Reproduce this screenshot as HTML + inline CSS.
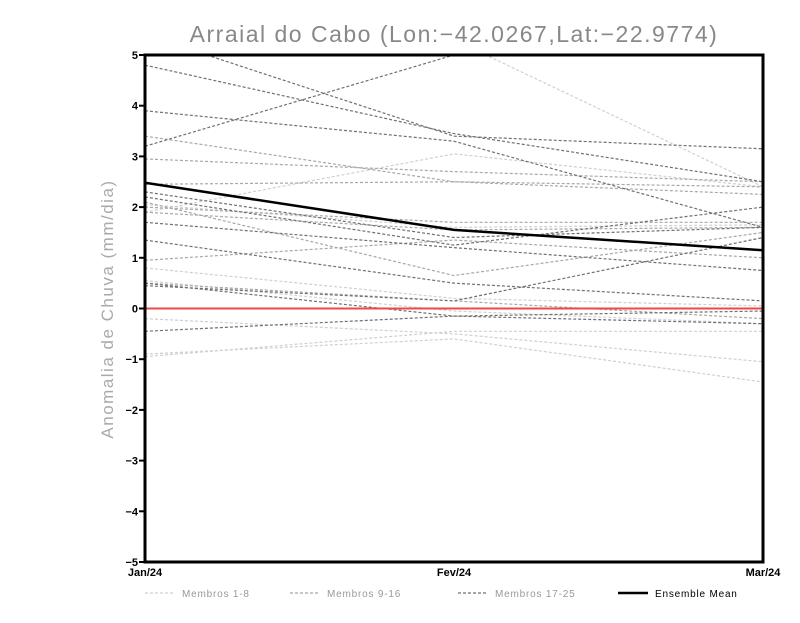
<!DOCTYPE html>
<html><head><meta charset="utf-8"><style>
body{margin:0;background:#fff;width:800px;height:618px;overflow:hidden}
text{font-family:"Liberation Sans",sans-serif}
</style></head><body>
<svg id="chart" width="800" height="618" xmlns="http://www.w3.org/2000/svg">
<text x="454" y="42" text-anchor="middle" font-size="23" fill="#888" letter-spacing="1.5">Arraial do Cabo (Lon:−42.0267,Lat:−22.9774)</text>
<text transform="translate(113,309) rotate(-90)" text-anchor="middle" font-size="17" fill="#aaa" letter-spacing="1.5">Anomalia de Chuva (mm/dia)</text>
<defs><clipPath id="plotclip"><rect x="145" y="55" width="618" height="507"/></clipPath></defs>
<g id="series" clip-path="url(#plotclip)"></g>
<rect x="145" y="55" width="618" height="507" fill="none" stroke="#000" stroke-width="3"/>
<g id="axes"></g>
<g id="legend"></g>
</svg>
<script>
const categories = ["Jan/24","Fev/24","Mar/24"];
const yTicks = [5,4,3,2,1,0,-1,-2,-3,-4,-5];
const members1to8 = [[6.0,5.3,2.4],[1.9,3.05,2.4],[0.8,0.2,0.05],[-0.2,-0.5,-1.05],[-0.9,-0.6,-1.45],[-0.95,-0.45,-0.45],[0.55,-0.05,-0.3],[2.05,1.6,1.65]];
const members9to16 = [[3.4,2.5,2.4],[2.95,2.7,2.5],[2.45,2.5,2.25],[2.0,1.7,1.7],[0.95,1.35,1.0],[2.1,0.65,1.5],[0.5,0.15,-0.2],[1.9,1.55,1.6]];
const members17to25 = [[4.8,3.45,2.5],[3.2,5.0,6.5],[3.9,3.3,1.6],[5.4,3.4,3.15],[2.3,1.4,1.6],[2.2,1.25,2.0],[1.7,1.2,0.75],[1.35,0.5,0.15],[0.45,0.15,1.4],[-0.45,-0.15,-0.05],[0.5,-0.15,-0.3]];
const ensembleMean = [2.48,1.55,1.15];
const x0=145,x1=763,yTop=55,yBot=562;
function xs(i){return x0+(x1-x0)*i/(categories.length-1);}
function ys(v){return yBot-(v+5)/10*(yBot-yTop);}
const NS="http://www.w3.org/2000/svg";
const series=document.getElementById('series'),axes=document.getElementById('axes'),legend=document.getElementById('legend');
function pts(a){return a.map((v,i)=>xs(i)+','+ys(v)).join(' ');}
function addLine(parent,a,color,w,dash,name){
  const p=document.createElementNS(NS,'polyline');
  p.setAttribute('points',pts(a));p.setAttribute('fill','none');p.setAttribute('stroke',color);
  p.setAttribute('stroke-width',w);if(dash)p.setAttribute('stroke-dasharray',dash);
  
  
  parent.appendChild(p);
}
members1to8.forEach((a,i)=>addLine(series,a,'#d0d0d0',1.2,'3,2','member-'+(i+1)+'-line'));
members9to16.forEach((a,i)=>addLine(series,a,'#a8a8a8',1.2,'3,2','member-'+(i+9)+'-line'));
members17to25.forEach((a,i)=>addLine(series,a,'#707070',1.2,'3,2','member-'+(i+17)+'-line'));
addLine(series,[0,0,0],'#f04848',2,null,'zero-line');
addLine(series,ensembleMean,'#000',2.5,null,'ensemble-mean-line');
yTicks.forEach(v=>{
  const t=document.createElementNS(NS,'text');
  t.setAttribute('x',138);t.setAttribute('y',ys(v)+4);t.setAttribute('text-anchor','end');
  t.setAttribute('font-size','11');t.setAttribute('font-weight','bold');
  t.textContent=(v<0?'−':'')+Math.abs(v);
  
  
  axes.appendChild(t);
  const l=document.createElementNS(NS,'line');
  l.setAttribute('x1',139);l.setAttribute('x2',145);l.setAttribute('y1',ys(v));l.setAttribute('y2',ys(v));l.setAttribute('stroke','#000');l.setAttribute('stroke-width',2);
  
  
  axes.appendChild(l);
});
categories.forEach((c,i)=>{
  const t=document.createElementNS(NS,'text');
  t.setAttribute('x',xs(i));t.setAttribute('y',576);t.setAttribute('text-anchor','middle');
  t.setAttribute('font-size','11');t.setAttribute('font-weight','bold');
  t.textContent=c;
  
  
  axes.appendChild(t);
});
const legItems=[["Membros 1-8","#d0d0d0",'3,2',1.2,145],["Membros 9-16","#a8a8a8",'3,2',1.2,290],["Membros 17-25","#707070",'3,2',1.2,458],["Ensemble Mean","#000",null,2.5,618]];
legItems.forEach(it=>{
  const g=document.createElementNS(NS,'g');
  
  
  const l=document.createElementNS(NS,'line');
  l.setAttribute('x1',it[4]);l.setAttribute('x2',it[4]+30);l.setAttribute('y1',593);l.setAttribute('y2',593);
  l.setAttribute('stroke',it[1]);l.setAttribute('stroke-width',it[3]);if(it[2])l.setAttribute('stroke-dasharray',it[2]);
  g.appendChild(l);
  const t=document.createElementNS(NS,'text');
  t.setAttribute('x',it[4]+37);t.setAttribute('y',597);t.setAttribute('font-size','10');
  t.setAttribute('fill',it[1]==='#000'?'#000':'#999');t.setAttribute('letter-spacing','0.8');
  t.textContent=it[0];
  g.appendChild(t);
  legend.appendChild(g);
});
</script>
</body></html>
